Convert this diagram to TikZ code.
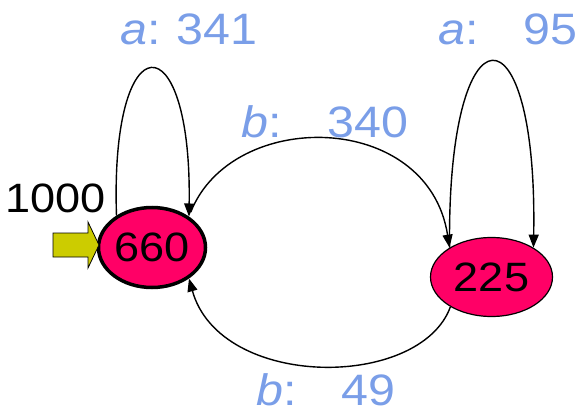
\documentclass[tikz,border=0pt]{standalone}
\usepackage{fontspec}
\setmainfont[FakeStretch=1.1]{Liberation Sans}
\usetikzlibrary{shapes.geometric,arrows.meta}
\definecolor{lblblue}{RGB}{122,158,232}
\definecolor{nodepink}{RGB}{255,0,102}
\definecolor{arrowyellow}{RGB}{204,204,0}
\begin{document}
\begin{tikzpicture}[x=1pt,y=-1pt,
  state/.style={ellipse, draw=black, fill=nodepink, inner sep=0pt,
    font=\fontsize{41}{48}\selectfont},
  conn/.style={line width=1.4pt, -{Triangle[length=13pt,width=10pt]}},
  lbl/.style={text=lblblue, font=\fontsize{44}{52}\selectfont, inner sep=0pt, anchor=base west},
  plain/.style={font=\fontsize{41}{48}\selectfont, inner sep=0pt, anchor=base west},
  startarrow/.style={draw=black, line width=0.8pt, fill=arrowyellow}]
\path[use as bounding box] (0,0) rectangle (585,414);

\node[state, line width=3.5pt, minimum width=107pt, minimum height=80pt] (n660) at (152,247.5) {660};
\node[state, line width=1.2pt, minimum width=122pt, minimum height=79pt] (n225) at (491.5,277) {225};

% start arrow
\path[startarrow] (53,233) -- (88,233) -- (88,222) -- (99,245) -- (88,268) -- (88,257) -- (53,257) -- cycle;
\node[plain] (t1000) at (5,212) {1000};

% self loop on 660
\draw[conn] (n660.138) .. controls (110,20) and (192,20) .. (n660.40);
% self loop on 225
\draw[conn] (n225.145) .. controls (447,0) and (538,0) .. (n225.35);
% 660 -> 225
\draw[conn] ([xshift=4pt,yshift=3pt]n660.43) .. controls (232,108) and (428,110) .. (n225.145);
% 225 -> 660
\draw[conn] (n225.216) .. controls (420,390) and (220,390) .. (n660.-40);

% labels
\node[lbl] (la341) at (120,45) {\textit{a}:\hspace{16pt}341};
\node[lbl] (la95) at (438,45) {\textit{a}:\hspace{45pt}95};
\node[lbl] (lb340) at (241,138) {\textit{b}:\hspace{46pt}340};
\node[lbl] (lb49) at (256,405) {\textit{b}:\hspace{45pt}49};
\end{tikzpicture}
\end{document}
